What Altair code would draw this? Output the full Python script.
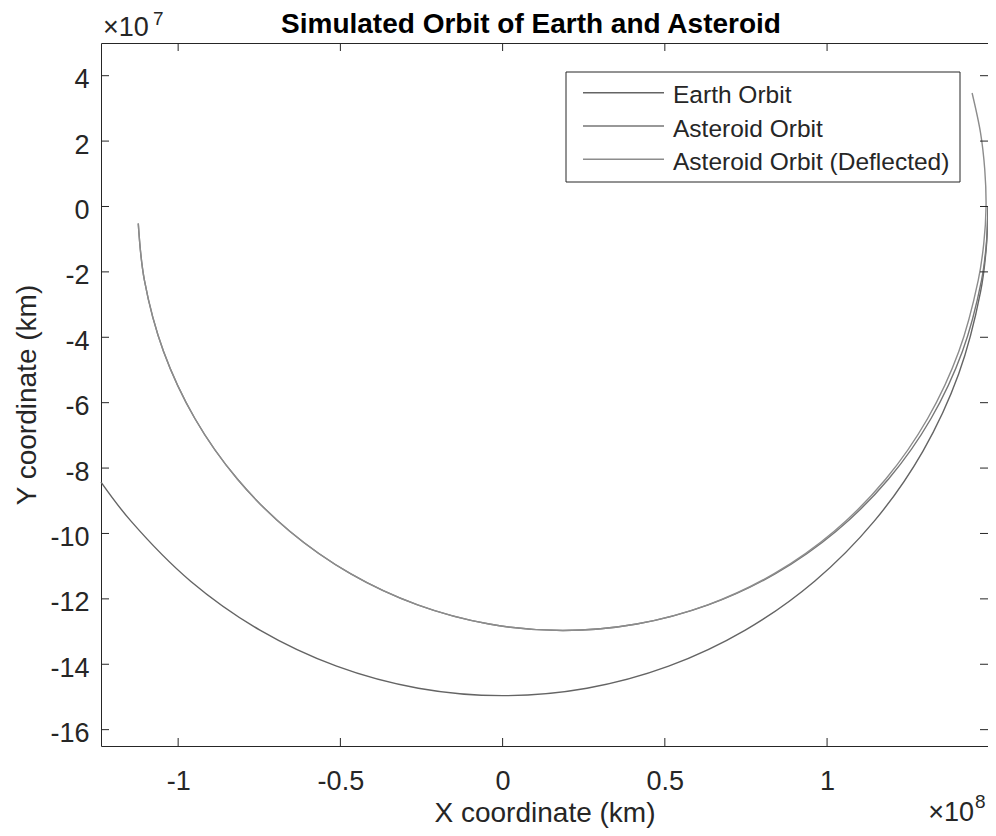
import altair as alt
import pandas as pd

# ---------------- data (positions in units of 10^7 km) ----------------
series_names = ["Earth Orbit", "Asteroid Orbit", "Asteroid Orbit (Deflected)"]
series_colors = ["#646464", "#767676", "#8c8c8c"]

earth_x = [-12.378, -11.460, -9.616, -7.480, -5.117, -2.598, 0.000, 2.598, 5.117,
           7.480, 9.616, 11.460, 12.956, 14.058, 14.733, 14.903, 14.960]
earth_y = [-8.430, -9.616, -11.460, -12.956, -14.058, -14.733, -14.960, -14.733, -14.058,
           -12.956, -11.460, -9.616, -7.480, -5.117, -2.598, -1.304, 0.000]

asteroid_x = [-11.229, -11.041, -10.450, -9.485, -8.175, -6.561, -4.690, -2.620, -0.415,
              1.860, 4.135, 6.340, 8.410, 10.281, 11.895, 13.205, 14.170, 14.761, 14.910, 14.960]
asteroid_y = [-0.520, -2.252, -4.435, -6.484, -8.335, -9.933, -11.230, -12.185, -12.770,
              -12.967, -12.770, -12.185, -11.230, -9.933, -8.335, -6.484, -4.435, -2.252, -1.130, 0.000]

deflected_x = [-11.229, -11.041, -10.450, -9.485, -8.175, -6.561, -4.690, -2.620, -0.415,
               1.860, 4.130, 6.320, 8.370, 10.220, 11.810, 13.100, 14.060, 14.660, 14.830,
               14.900, 14.860, 14.730, 14.470]
deflected_y = [-0.520, -2.252, -4.435, -6.484, -8.335, -9.933, -11.230, -12.185, -12.770,
               -12.967, -12.770, -12.185, -11.230, -9.933, -8.335, -6.484, -4.435, -2.252, -1.130,
               0.000, 1.130, 2.252, 3.470]

x_ticks = [-1e8, -0.5e8, 0, 0.5e8, 1e8]
y_ticks = [-16e7, -14e7, -12e7, -10e7, -8e7, -6e7, -4e7, -2e7, 0, 2e7, 4e7]
x_domain = [-1.2378e8, 1.496e8]
y_domain = [-16.5e7, 5e7]

title_text = "Simulated Orbit of Earth and Asteroid"
x_title = "X coordinate (km)"
y_title = "Y coordinate (km)"

# ---------------- build ----------------
FONT = "Liberation Sans"
AX = "#262626"
W, H = 887, 703

rows = []
for name, xs_, ys_ in zip(series_names, [earth_x, asteroid_x, deflected_x],
                          [earth_y, asteroid_y, deflected_y]):
    for i, (xv, yv) in enumerate(zip(xs_, ys_)):
        rows.append({"series": name, "x": xv * 1e7, "y": yv * 1e7, "i": i})
df = pd.DataFrame(rows)

xs = alt.Scale(domain=x_domain, nice=False, zero=False)
ys = alt.Scale(domain=y_domain, nice=False, zero=False)

x_axis = alt.Axis(values=x_ticks, labelExpr="toString(datum.value / 100000000)",
                  title=x_title, titleFont=FONT, titleFontSize=28, titleFontWeight="normal",
                  titleColor=AX, titleX=W / 2, titleY=75, titleBaseline="alphabetic",
                  titleAlign="center", titleAnchor="middle",
                  labelFont=FONT, labelFontSize=27, labelColor=AX, labelPadding=43,
                  labelBaseline="alphabetic", labelFlush=False, labelOverlap=False,
                  ticks=False, tickSize=0, domain=False, grid=False)
y_axis = alt.Axis(values=y_ticks, labelExpr="toString(datum.value / 10000000)",
                  title=y_title, titleFont=FONT, titleFontSize=28, titleFontWeight="normal",
                  titleColor=AX, titleX=-66, titleY=H / 2, titleAngle=270,
                  titleBaseline="alphabetic", titleAlign="center", titleAnchor="middle",
                  labelFont=FONT, labelFontSize=27, labelColor=AX, labelPadding=12,
                  labelBaseline="middle", labelOffset=4, labelFlush=False, labelOverlap=False,
                  ticks=False, tickSize=0, domain=False, grid=False)

X = alt.X("x:Q", scale=xs, axis=x_axis)
Y = alt.Y("y:Q", scale=ys, axis=y_axis)

lines = alt.Chart(df).mark_line(strokeWidth=1.4, interpolate="catmull-rom").encode(
    x=X, y=Y,
    color=alt.Color("series:N", scale=alt.Scale(domain=series_names, range=series_colors),
                    legend=None),
    detail="series:N",
    order="i:Q",
)

TL = 8
xt = pd.DataFrame({"x": x_ticks})
yt = pd.DataFrame({"y": y_ticks})
tick_b = alt.Chart(xt).mark_rule(color=AX, strokeWidth=1).encode(
    x=X, y=alt.value(H), y2=alt.value(H - TL))
tick_t = alt.Chart(xt).mark_rule(color=AX, strokeWidth=1).encode(
    x=X, y=alt.value(0), y2=alt.value(TL))
tick_l = alt.Chart(yt).mark_rule(color=AX, strokeWidth=1).encode(
    y=Y, x=alt.value(0), x2=alt.value(TL))
tick_r = alt.Chart(yt).mark_rule(color=AX, strokeWidth=1).encode(
    y=Y, x=alt.value(W), x2=alt.value(W - TL))

one = pd.DataFrame({"a": [0]})

# legend box
lg_x0, lg_x1, lg_y0, lg_y1 = 465, 859, 29, 139
legend_box = alt.Chart(one).mark_rect(fill="white", stroke=AX, strokeWidth=1).encode(
    x=alt.value(lg_x0), x2=alt.value(lg_x1), y=alt.value(lg_y0), y2=alt.value(lg_y1))
legend_layers = [legend_box]
row_y = [49.7, 83.0, 116.3]
for name, col, ry in zip(series_names, series_colors, row_y):
    legend_layers.append(alt.Chart(one).mark_rule(color=col, strokeWidth=1.4).encode(
        x=alt.value(lg_x0 + 17), x2=alt.value(lg_x0 + 98), y=alt.value(ry)))
    legend_layers.append(alt.Chart(one).mark_text(
        text=name, font=FONT, fontSize=24.5, color=AX, align="left", baseline="alphabetic").encode(
        x=alt.value(lg_x0 + 107), y=alt.value(ry + 10.5)))

title = alt.Chart(one).mark_text(
    text=title_text, font=FONT, fontSize=28, fontWeight="bold", color="#000000",
    align="center", baseline="alphabetic").encode(x=alt.value(430), y=alt.value(-10))

exp_y1 = alt.Chart(one).mark_text(text="×10", font=FONT, fontSize=27, color=AX,
                                  align="left", baseline="alphabetic").encode(
    x=alt.value(2), y=alt.value(-7))
exp_y2 = alt.Chart(one).mark_text(text="7", font=FONT, fontSize=19, color=AX,
                                  align="left", baseline="alphabetic").encode(
    x=alt.value(52), y=alt.value(-18))
exp_x1 = alt.Chart(one).mark_text(text="×10", font=FONT, fontSize=27, color=AX,
                                  align="right", baseline="alphabetic").encode(
    x=alt.value(W - 14), y=alt.value(778))
exp_x2 = alt.Chart(one).mark_text(text="8", font=FONT, fontSize=19, color=AX,
                                  align="left", baseline="alphabetic").encode(
    x=alt.value(W - 13), y=alt.value(765))

chart = alt.layer(
    lines, tick_b, tick_t, tick_l, tick_r, *legend_layers, title,
    exp_y1, exp_y2, exp_x1, exp_x2
).properties(
    width=W, height=H,
    autosize=alt.AutoSizeParams(type="none"),
    padding={"left": 93, "top": 35, "right": 0, "bottom": 82},
    background="white",
).configure_view(stroke=AX, strokeWidth=1)

chart.save("out.html", embed_options={"renderer": "svg", "actions": False})
